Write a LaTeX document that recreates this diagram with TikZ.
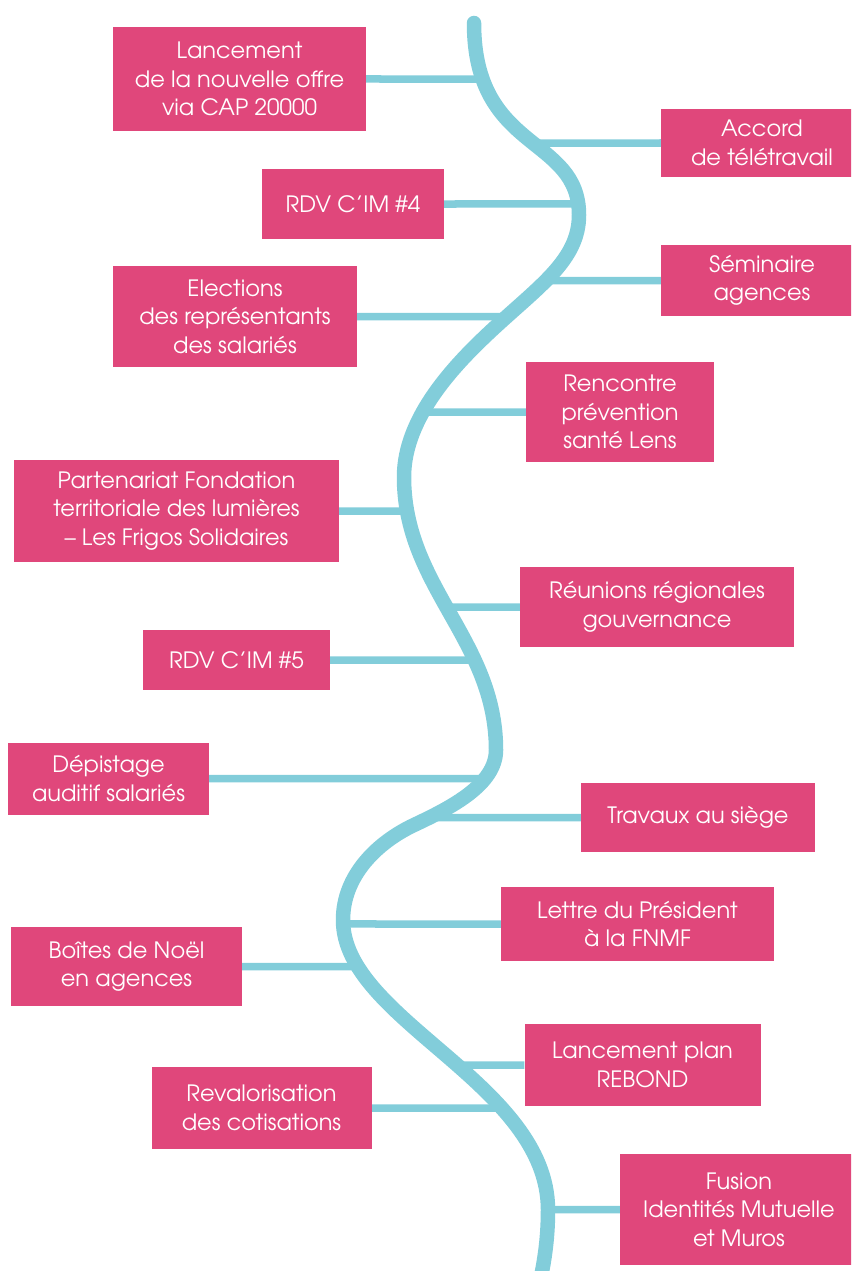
\documentclass[tikz,border=0pt]{standalone}
\usepackage{fontspec}
\setmainfont{TeX Gyre Adventor}
\usetikzlibrary{intersections}
\definecolor{pinkbox}{RGB}{224,71,123}
\definecolor{curveblue}{RGB}{130,205,218}
\pgfdeclarelayer{bg}
\pgfsetlayers{bg,main}
\begin{document}
\begin{tikzpicture}[x=1pt,y=-1pt,
  evbox/.style={fill=pinkbox, text=white, align=center, inner sep=0pt,
    font=\fontsize{22.5}{28.5}\selectfont},
  link/.style={draw=curveblue, line width=7.5pt},
  spine/.style={draw=curveblue, line width=14.5pt, line cap=round}]
\useasboundingbox (0,0) rectangle (851,1271);
\clip (0,0) rectangle (851,1271);

% spine
\draw[spine, name path=spine] (474,23)
  .. controls (474,153) and (579,135) .. (579,215)
  .. controls (579,260) and (539.5,285.8) .. (492,330)
  .. controls (455.5,364) and (404,417) .. (404,477)
  .. controls (404,587) and (496,640) .. (496,750)
  .. controls (496,785) and (450,808) .. (414,825)
  .. controls (378,842) and (343,875) .. (343,920)
  .. controls (343,1020) and (548,1083) .. (548,1210)
  .. controls (548,1240) and (544,1265) .. (538,1290);

% boxes
\node[evbox, minimum width=253pt, minimum height=104pt] (b1) at (239.5,79)
  {Lancement\\de la nouvelle offre\\via CAP 20000};
\node[evbox, minimum width=202pt, minimum height=68pt] (b2) at (762,143)
  {Accord\\de télétravail};
\node[evbox, minimum width=182pt, minimum height=70pt] (b3) at (353,204)
  {RDV C’IM \#4};
\node[evbox, minimum width=202pt, minimum height=71pt] (b4) at (762,280.5)
  {Séminaire\\agences};
\node[evbox, minimum width=244pt, minimum height=101pt] (b5) at (235,316.5)
  {Elections\\des représentants\\des salariés};
\node[evbox, minimum width=188pt, minimum height=100pt] (b6) at (620,412)
  {Rencontre\\prévention\\santé Lens};
\node[evbox, minimum width=325pt, minimum height=102pt] (b7) at (176.5,511)
  {Partenariat Fondation\\territoriale des lumières\\– Les Frigos Solidaires};
\node[evbox, minimum width=274pt, minimum height=80pt] (b8) at (657,607)
  {Réunions régionales\\gouvernance};
\node[evbox, minimum width=187pt, minimum height=60pt] (b9) at (236.5,660)
  {RDV C’IM \#5};
\node[evbox, minimum width=201pt, minimum height=72pt] (b10) at (108.5,778.5)
  {Dépistage\\auditif salariés};
\node[evbox, minimum width=234pt, minimum height=69pt] (b11) at (698,817.5)
  {Travaux au siège};
\node[evbox, minimum width=273pt, minimum height=74pt] (b12) at (637.5,924)
  {Lettre du Président\\à la FNMF};
\node[evbox, minimum width=231pt, minimum height=79pt] (b13) at (126.5,966.5)
  {Boîtes de Noël\\en agences};
\node[evbox, minimum width=236pt, minimum height=82pt] (b14) at (642.5,1065)
  {Lancement plan\\REBOND};
\node[evbox, minimum width=220pt, minimum height=82pt] (b15) at (261.5,1108)
  {Revalorisation\\des cotisations};
\node[evbox, minimum width=238pt, minimum height=111pt] (b16) at (739,1209.5)
  {Fusion\\Identités Mutuelle\\et Muros};

% connectors
\begin{pgfonlayer}{bg}
\foreach \b/\d in {b1/1,b3/1,b5/1,b7/1,b9/1,b10/1,b13/1,b15/1,
                   b2/-1,b4/-1,b6/-1,b8/-1,b11/-1,b12/-1,b14/-1,b16/-1}{
  \ifnum\d=1
    \coordinate (s-\b) at (\b.east);
  \else
    \coordinate (s-\b) at (\b.west);
  \fi
  \path[name path=h-\b] (s-\b) -- ++(\d*450,0);
  \path[name intersections={of=spine and h-\b, sort by=h-\b, by={c-\b}}];
  \draw[link] (s-\b) -- (c-\b);
}
\end{pgfonlayer}
\end{tikzpicture}
\end{document}
